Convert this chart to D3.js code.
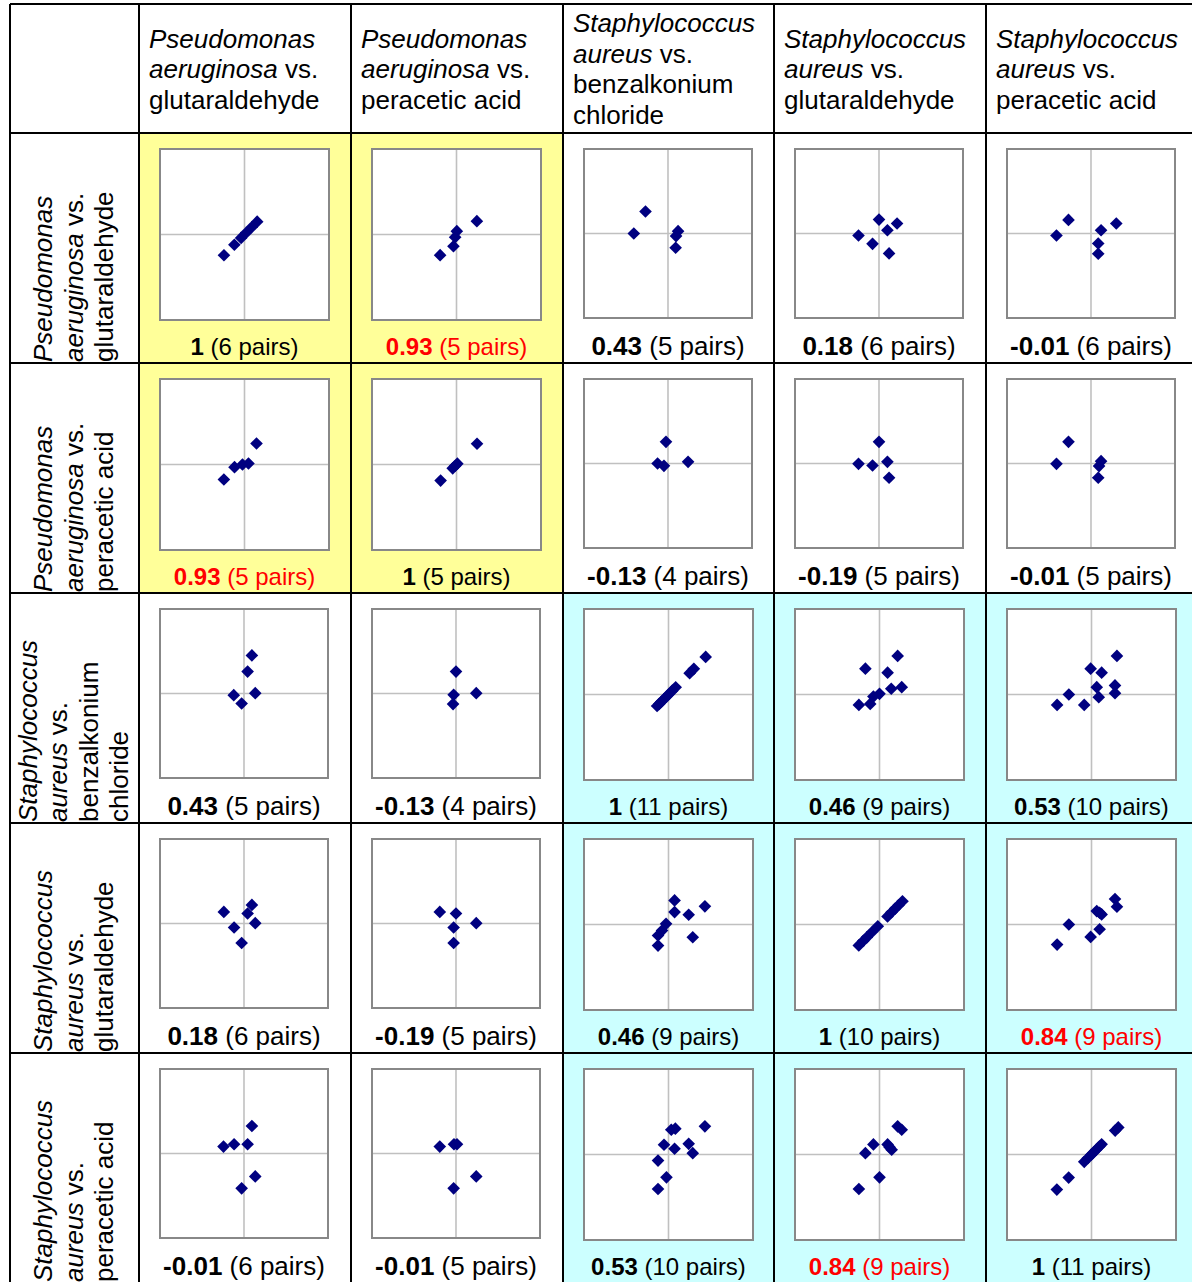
<!DOCTYPE html>
<html>
<head>
<meta charset="utf-8">
<script src="https://cdn.jsdelivr.net/npm/d3@7"></script>
<style>
  body { margin: 0; background: #fff; }
  svg { display: block; }
  text { white-space: pre; }
</style>
</head>
<body>
<svg id="chart" width="1192" height="1282"></svg>
<script>
// ---------------- DATA ----------------
const genus    = ["Pseudomonas", "Pseudomonas", "Staphylococcus", "Staphylococcus", "Staphylococcus"];
const epithet  = ["aeruginosa", "aeruginosa", "aureus", "aureus", "aureus"];
const agentLines = [["glutaraldehyde"], ["peracetic acid"], ["benzalkonium", "chloride"], ["glutaraldehyde"], ["peracetic acid"]];

const correlations = [
  [1, 0.93, 0.43, 0.18, -0.01],
  [0.93, 1, -0.13, -0.19, -0.01],
  [0.43, -0.13, 1, 0.46, 0.53],
  [0.18, -0.19, 0.46, 1, 0.84],
  [-0.01, -0.01, 0.53, 0.84, 1]
];
const pairCounts = [
  [6, 5, 5, 6, 6],
  [5, 5, 4, 5, 5],
  [5, 4, 11, 9, 10],
  [6, 5, 9, 10, 9],
  [6, 5, 10, 9, 11]
];

// scatter points per row: [x, y] pairs for each of the 5 columns
const pointsRow1 = [
  [[-0.243,-0.243],[-0.12,-0.12],[-0.04,-0.04],[0.02,0.02],[0.085,0.085],[0.15,0.15]],
  [[-0.194,-0.242],[-0.036,-0.137],[-0.016,-0.031],[0.004,0.039],[0.241,0.156]],
  [[-0.268,0.26],[-0.407,0],[0.12,0.028],[0.096,-0.031],[0.091,-0.169]],
  [[0,0.165],[0.215,0.118],[0.1,0.039],[-0.244,-0.024],[-0.077,-0.122],[0.12,-0.236]],
  [[-0.268,0.161],[0.301,0.118],[0.12,0.039],[-0.411,-0.024],[0.086,-0.118],[0.086,-0.24]]
];
const pointsRow2 = [
  [[-0.244,-0.176],[-0.118,-0.031],[-0.024,0],[0.047,0.012],[0.142,0.246]],
  [[-0.188,-0.188],[-0.045,-0.045],[-0.015,-0.015],[0.01,0.01],[0.243,0.243]],
  [[-0.024,0.256],[-0.124,0],[-0.048,-0.028],[0.239,0.02]],
  [[0,0.256],[-0.244,-0.004],[-0.077,-0.024],[0.1,0.02],[0.12,-0.169]],
  [[-0.268,0.256],[-0.411,-0.004],[0.12,0.028],[0.096,-0.031],[0.086,-0.169]]
];
const pointsRow3 = [
  [[0.094,0.451],[0.043,0.259],[-0.122,-0.02],[0.134,0.004],[-0.028,-0.118]],
  [[0,0.259],[-0.028,-0.016],[-0.035,-0.125],[0.241,0.004]],
  [[-0.135,-0.135],[-0.11,-0.11],[-0.085,-0.085],[-0.055,-0.055],[-0.025,-0.025],[0.01,0.01],[0.045,0.045],[0.085,0.085],[0.25,0.25],[0.3,0.3],[0.44,0.44]],
  [[0.215,0.451],[-0.167,0.302],[0.096,0.255],[0.263,0.086],[0.139,0.067],[0,0.008],[-0.072,-0.024],[-0.11,-0.11],[-0.244,-0.122]],
  [[0.301,0.451],[-0.01,0.302],[0.12,0.255],[0.278,0.106],[0.062,0.086],[0.278,0.016],[0.086,-0.031],[-0.268,0],[-0.407,-0.122],[-0.086,-0.122]]
];
const pointsRow4 = [
  [[-0.24,0.137],[0.094,0.22],[0.043,0.118],[0.134,0.004],[-0.118,-0.047],[-0.028,-0.231]],
  [[-0.193,0.137],[0,0.118],[-0.028,-0.047],[0.241,0.004],[-0.028,-0.231]],
  [[0.072,0.282],[0.431,0.212],[0.072,0.145],[0.239,0.114],[-0.029,0.008],[-0.077,-0.071],[-0.124,-0.129],[0.287,-0.149],[-0.124,-0.247]],
  [[-0.245,-0.245],[-0.19,-0.19],[-0.15,-0.15],[-0.088,-0.088],[-0.02,-0.02],[0.095,0.095],[0.143,0.143],[0.186,0.186],[0.225,0.225],[0.272,0.272]],
  [[0.278,0.298],[0.301,0.208],[0.062,0.157],[0.12,0.118],[0.096,0.137],[-0.268,0],[0.096,-0.055],[-0.01,-0.145],[-0.407,-0.235]]
];
const pointsRow5 = [
  [[0.094,0.325],[-0.244,0.082],[-0.118,0.11],[0.043,0.11],[0.134,-0.271],[-0.028,-0.412]],
  [[-0.193,0.082],[-0.024,0.11],[0.012,0.11],[0.241,-0.271],[-0.028,-0.412]],
  [[0.431,0.329],[0.033,0.29],[0.081,0.302],[-0.053,0.114],[0.072,0.067],[0.239,0.125],[0.287,0.016],[-0.124,-0.071],[-0.024,-0.267],[-0.124,-0.404]],
  [[0.215,0.329],[0.263,0.29],[-0.072,0.118],[-0.167,0.016],[0.096,0.118],[0.144,0.055],[0.12,0.086],[0,-0.267],[-0.244,-0.404]],
  [[-0.41,-0.41],[-0.27,-0.27],[-0.086,-0.086],[-0.044,-0.044],[-0.005,-0.005],[0.024,0.024],[0.056,0.056],[0.093,0.093],[0.12,0.12],[0.28,0.28],[0.317,0.317]]
];
const allPoints = [pointsRow1, pointsRow2, pointsRow3, pointsRow4, pointsRow5];
const axisDomain = [-1, 1];

// ---------------- LAYOUT ----------------
const colEdges = [10, 139, 351, 563, 774, 986, 1198];
const rowEdges = [4, 133, 363, 593, 823, 1053, 1283];
const FONT = "'Liberation Sans', Arial, Helvetica, sans-serif";
const LINE_H = 30.5;

const svg = d3.select("#chart");
svg.append("rect").attr("width", 1192).attr("height", 1282).attr("fill", "#fff");

const n = genus.length;
function cellColor(i, j) {
  if (genus[i] === genus[j] && genus[i] === "Pseudomonas") return "#FFFF99";
  if (genus[i] === genus[j] && genus[i] === "Staphylococcus") return "#CCFFFF";
  return null;
}

const gBg = svg.append("g");
const gPlots = svg.append("g");
const gGrid = svg.append("g");
const gText = svg.append("g");

for (let i = 0; i < n; i++) {
  for (let j = 0; j < n; j++) {
    const x0 = colEdges[j + 1], x1 = colEdges[j + 2];
    const y0 = rowEdges[i + 1], y1 = rowEdges[i + 2];
    const bg = cellColor(i, j);
    if (bg) gBg.append("rect").attr("x", x0).attr("y", y0).attr("width", x1 - x0).attr("height", y1 - y0).attr("fill", bg);

    const colored = !!bg;
    const bw = colored ? 169 : 168, bh = colored ? 171 : 169;
    const bx = x0 + 21, by = y0 + 16;
    const xs = d3.scaleLinear().domain(axisDomain).range([bx, bx + bw]);
    const ys = d3.scaleLinear().domain(axisDomain).range([by + bh, by]);
    const g = gPlots.append("g");
    g.append("rect").attr("x", bx).attr("y", by).attr("width", bw).attr("height", bh)
      .attr("fill", "#fff").attr("stroke", "#888").attr("stroke-width", 2);
    g.append("line").attr("x1", xs(0)).attr("x2", xs(0)).attr("y1", by + 1).attr("y2", by + bh - 1)
      .attr("stroke", "#C0C0C0").attr("stroke-width", 1.6);
    g.append("line").attr("y1", ys(0)).attr("y2", ys(0)).attr("x1", bx + 1).attr("x2", bx + bw - 1)
      .attr("stroke", "#C0C0C0").attr("stroke-width", 1.6);
    const sym = d3.symbol().type(d3.symbolSquare).size(80);
    g.selectAll("path.pt").data(allPoints[i][j]).enter().append("path")
      .attr("class", "pt")
      .attr("d", sym)
      .attr("transform", d => `translate(${xs(d[0])},${ys(d[1])}) rotate(45)`)
      .attr("fill", "#000080");

    const r = correlations[i][j];
    const red = r !== 1 && r >= 0.8;
    const t = gText.append("text")
      .attr("x", xs(0)).attr("y", y0 + 222)
      .attr("text-anchor", "middle")
      .attr("font-family", FONT)
      .attr("font-size", colored ? 24 : 26)
      .attr("fill", red ? "#FF0000" : "#000");
    t.append("tspan").attr("font-weight", "bold").text(String(r));
    t.append("tspan").text(` (${pairCounts[i][j]} pairs)`);
  }
}

// header lines
function headerLines(k) {
  return [
    [{ t: genus[k], it: true }],
    [{ t: epithet[k], it: true }, { t: " vs.", it: false }],
    ...agentLines[k].map(a => [{ t: a, it: false }])
  ];
}

// column headers
for (let j = 0; j < n; j++) {
  const lines = headerLines(j);
  const x0 = colEdges[j + 1];
  const cy = (rowEdges[0] + rowEdges[1]) / 2;
  lines.forEach((segs, k) => {
    const t = gText.append("text")
      .attr("x", x0 + 10)
      .attr("y", cy + 9.5 + (k - (lines.length - 1) / 2) * LINE_H)
      .attr("font-family", FONT).attr("font-size", 26).attr("fill", "#000");
    segs.forEach(s => t.append("tspan").attr("font-style", s.it ? "italic" : "normal").text(s.t));
  });
}

// row headers (rotated)
for (let i = 0; i < n; i++) {
  const lines = headerLines(i);
  const cx = (colEdges[0] + colEdges[1]) / 2 - 1.5;
  const yb = rowEdges[i + 2] - 1;
  const g = gText.append("g").attr("transform", `translate(${cx},${yb}) rotate(-90)`);
  lines.forEach((segs, k) => {
    const t = g.append("text")
      .attr("x", 0)
      .attr("y", 9.5 + (k - (lines.length - 1) / 2) * LINE_H)
      .attr("font-family", FONT).attr("font-size", 26).attr("fill", "#000");
    segs.forEach(s => t.append("tspan").attr("font-style", s.it ? "italic" : "normal").text(s.t));
  });
}

// grid lines
colEdges.forEach(x => gGrid.append("line").attr("x1", x).attr("x2", x)
  .attr("y1", rowEdges[0]).attr("y2", rowEdges[rowEdges.length - 1])
  .attr("stroke", "#000").attr("stroke-width", 2));
rowEdges.forEach(y => gGrid.append("line").attr("y1", y).attr("y2", y)
  .attr("x1", colEdges[0]).attr("x2", colEdges[colEdges.length - 1])
  .attr("stroke", "#000").attr("stroke-width", 2));
</script>
</body>
</html>
